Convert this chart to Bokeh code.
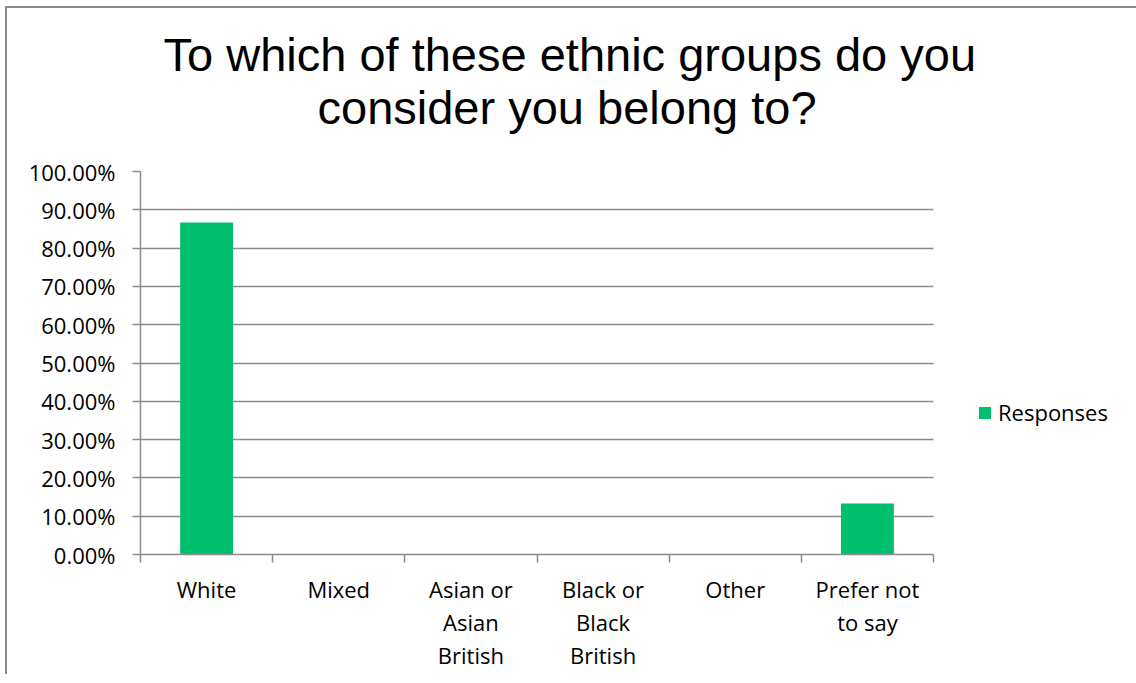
from bokeh.plotting import figure
from bokeh.models import (Range1d, FixedTicker, PrintfTickFormatter, Legend, LegendItem,
                          ColumnDataSource, Title)
from bokeh.embed import file_html
from bokeh.resources import INLINE

categories = ["White", "Mixed", "Asian or Asian British", "Black or Black British", "Other", "Prefer not to say"]
tick_labels = ["White", "Mixed", "Asian or\nAsian\nBritish", "Black or\nBlack\nBritish", "Other", "Prefer not\nto say"]
responses = [86.67, 0.0, 0.0, 0.0, 0.0, 13.33]
y_ticks = [0, 10, 20, 30, 40, 50, 60, 70, 80, 90, 100]
title_lines = ["To which of these ethnic groups do you", "consider you belong to?"]
series_name = "Responses"

GREEN = "#00BF6F"
GRAY = "#8C8C8C"
LABEL_FONT = "Open Sans"

# layout (pixels)
W, H = 1140, 668
LEFT, TOP, BOTTOM = 133, 163, 122
PLOT_W = 793                       # width of the category area
FRAME_W = W - LEFT                 # frame extends to the right edge (legend lives there)
n = len(categories)

centers = [i + 0.5 for i in range(n)]
src = ColumnDataSource(dict(x=centers, top=responses, cat=categories))

p = figure(width=W, height=H, output_backend="svg", toolbar_location=None,
           x_range=Range1d(0, n * FRAME_W / PLOT_W), y_range=Range1d(0, 100),
           min_border_left=LEFT, min_border_right=0, min_border_top=TOP, min_border_bottom=BOTTOM)
p.styles = {"margin-left": "7px", "margin-top": "8px",
            "box-shadow": "-2px -2px 0px 0px #8a8a8a"}

# title: two centred lines, second one added first (closest to frame)
t2 = Title(text=title_lines[1], text_font="Liberation Sans", text_font_size="47px",
           text_font_style="normal", text_color="black", align="left", offset=177, standoff=76)
t1 = Title(text=title_lines[0], text_font="Liberation Sans", text_font_size="47px",
           text_font_style="normal", text_color="black", align="left", offset=23, standoff=-81)
p.add_layout(t2, "above")
p.add_layout(t1, "above")

r = p.vbar(x="x", top="top", width=0.4, source=src, fill_color=GREEN, line_color=None)

# y axis
p.yaxis.ticker = FixedTicker(ticks=y_ticks)
p.yaxis.formatter = PrintfTickFormatter(format="%.2f%%")
p.yaxis.major_label_text_font = LABEL_FONT
p.yaxis.major_label_text_font_size = "22px"
p.yaxis.major_label_text_color = "black"
p.yaxis.major_tick_out = 8
p.yaxis.major_tick_in = 0
p.yaxis.minor_tick_line_color = None
p.yaxis.axis_line_color = GRAY
p.yaxis.axis_line_width = 1.5
p.yaxis.major_tick_line_color = GRAY
p.yaxis.major_tick_line_width = 1.5
p.yaxis.major_label_standoff = 17

# x axis: labels at centers, tick marks at boundaries
p.xaxis.ticker = FixedTicker(ticks=centers, minor_ticks=list(range(n + 1)))
p.xaxis.bounds = (0, n)
p.xaxis.major_label_overrides = {c: t for c, t in zip(centers, tick_labels)}
p.xaxis.major_tick_line_color = None
p.xaxis.minor_tick_line_color = GRAY
p.xaxis.minor_tick_line_width = 1.5
p.xaxis.minor_tick_out = 8
p.xaxis.minor_tick_in = 0
p.xaxis.axis_line_color = GRAY
p.xaxis.axis_line_width = 1.5
p.xaxis.major_label_text_font = LABEL_FONT
p.xaxis.major_label_text_font_size = "22px"
p.xaxis.major_label_text_color = "black"
p.xaxis.major_label_text_line_height = 1.1
p.xaxis.major_label_standoff = 11

p.xgrid.grid_line_color = None
grid = p.ygrid[0]
if "cross_bounds" in grid.properties():
    grid.ticker = FixedTicker(ticks=y_ticks)
    grid.cross_bounds = (0, n)
    grid.grid_line_color = GRAY
    grid.grid_line_width = 1.3
else:
    grid.grid_line_color = None
    p.segment(x0=[0] * len(y_ticks), x1=[n] * len(y_ticks), y0=y_ticks, y1=y_ticks,
              line_color=GRAY, line_width=1.3, level="underlay")
p.outline_line_color = None

legend = Legend(items=[LegendItem(label=series_name, renderers=[r])],
                location=(837, 127), orientation="vertical",
                border_line_color=None, background_fill_alpha=0,
                glyph_width=15, glyph_height=15, label_standoff=6,
                padding=0, margin=0, spacing=0,
                label_text_font=LABEL_FONT, label_text_font_size="22px",
                label_text_color="black")
p.add_layout(legend, "center")

open("out.html", "w").write(file_html(p, INLINE))
